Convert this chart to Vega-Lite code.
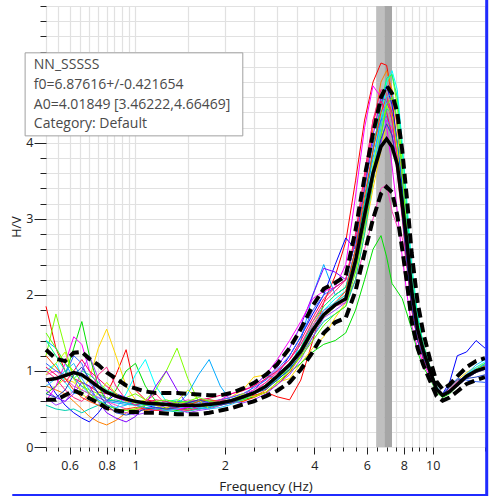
{
"$schema": "https://vega.github.io/schema/vega-lite/v6.json",
"width": 439, "height": 441,
"autosize": {"type": "none"},
"padding": {"left": 46, "top": 6, "right": 8, "bottom": 49},
"background": "white",
"config": {"view": {"stroke": null}, "font": "Open Sans"},
"datasets": {"hv": [
{"hz":0.5,"up":1.28,"mn":0.88,"lo":0.62,"a":1.85,"b":0.8,"c":0.7,"d":1.2,"e":0.7,"f":1.0,"g":1.4,"h":0.9,"i":0.75,"j":0.6,"k":0.95,"l":1.1,"m":1.4,"n":1.05,"o":0.55,"p":1.2,"q":0.95,"r":0.65,"s":1.0,"t":0.8,"u":1.5,"w":0.7},
{"hz":0.54,"up":1.16,"mn":0.9,"lo":0.62,"a":1.3,"b":0.75,"c":0.8,"d":1.75,"e":0.8,"f":1.1,"g":1.3,"h":0.7,"i":0.65,"j":0.8,"k":1.0,"l":1.0,"m":1.2,"n":0.95,"o":0.5,"p":1.05,"q":1.1,"r":0.55,"s":0.9,"t":0.9,"u":1.3,"w":0.65},
{"hz":0.58,"up":1.13,"mn":0.94,"lo":0.68,"a":1.0,"b":0.7,"c":0.9,"d":1.3,"e":0.95,"f":0.85,"g":1.1,"h":0.55,"i":0.6,"j":1.1,"k":0.9,"l":0.95,"m":1.0,"n":0.85,"o":0.48,"p":0.9,"q":1.25,"r":0.6,"s":0.75,"t":1.0,"u":1.1,"w":0.75},
{"hz":0.62,"up":1.24,"mn":0.98,"lo":0.74,"a":0.9,"b":0.6,"c":0.85,"d":0.9,"e":1.3,"f":0.7,"g":0.9,"h":0.45,"i":0.7,"j":1.45,"k":0.8,"l":1.2,"m":0.9,"n":1.0,"o":0.5,"p":0.75,"q":0.9,"r":0.75,"s":0.65,"t":1.1,"u":1.0,"w":0.95},
{"hz":0.66,"up":1.25,"mn":0.95,"lo":0.7,"a":0.85,"b":0.5,"c":0.75,"d":0.8,"e":1.65,"f":0.75,"g":0.8,"h":0.38,"i":0.85,"j":1.35,"k":0.75,"l":1.1,"m":1.0,"n":1.15,"o":0.45,"p":0.65,"q":0.7,"r":1.0,"s":0.6,"t":0.9,"u":0.85,"w":1.05},
{"hz":0.7,"up":1.16,"mn":0.88,"lo":0.64,"a":0.8,"b":0.4,"c":0.9,"d":0.75,"e":1.2,"f":0.7,"g":0.7,"h":0.33,"i":0.8,"j":1.0,"k":0.7,"l":0.85,"m":0.95,"n":1.0,"o":0.5,"p":0.6,"q":0.62,"r":1.2,"s":0.7,"t":0.75,"u":0.7,"w":0.9},
{"hz":0.75,"up":1.08,"mn":0.79,"lo":0.58,"a":0.72,"b":0.33,"c":1.3,"d":0.7,"e":0.8,"f":0.62,"g":0.65,"h":0.45,"i":0.6,"j":0.8,"k":0.65,"l":0.7,"m":0.85,"n":0.9,"o":0.55,"p":0.55,"q":0.7,"r":0.9,"s":0.95,"t":0.62,"u":0.6,"w":0.7},
{"hz":0.8,"up":0.98,"mn":0.72,"lo":0.51,"a":0.7,"b":0.29,"c":1.55,"d":0.65,"e":0.6,"f":0.55,"g":0.6,"h":0.6,"i":0.45,"j":0.7,"k":0.6,"l":0.62,"m":0.75,"n":0.8,"o":0.6,"p":0.5,"q":0.85,"r":0.6,"s":1.05,"t":0.55,"u":0.55,"w":0.55},
{"hz":0.86,"up":0.9,"mn":0.67,"lo":0.48,"a":0.95,"b":0.35,"c":1.2,"d":0.6,"e":0.75,"f":0.5,"g":0.58,"h":0.7,"i":0.38,"j":0.65,"k":0.55,"l":0.6,"m":0.7,"n":0.7,"o":0.62,"p":0.48,"q":0.7,"r":0.5,"s":0.8,"t":0.52,"u":0.5,"w":0.45},
{"hz":0.93,"up":0.81,"mn":0.63,"lo":0.46,"a":1.28,"b":0.45,"c":0.8,"d":0.65,"e":1.0,"f":0.7,"g":0.56,"h":0.65,"i":0.33,"j":0.6,"k":0.5,"l":0.58,"m":0.62,"n":0.62,"o":0.58,"p":0.5,"q":0.6,"r":0.45,"s":0.62,"t":0.55,"u":0.48,"w":0.42},
{"hz":1.0,"up":0.77,"mn":0.6,"lo":0.46,"a":0.75,"b":0.5,"c":0.62,"d":0.7,"e":1.1,"f":0.95,"g":0.55,"h":0.6,"i":0.4,"j":0.55,"k":0.48,"l":0.56,"m":0.58,"n":0.6,"o":0.55,"p":0.52,"q":0.58,"r":0.42,"s":0.55,"t":0.62,"u":0.5,"w":0.45},
{"hz":1.08,"up":0.73,"mn":0.58,"lo":0.45,"a":0.62,"b":0.48,"c":0.58,"d":0.62,"e":0.8,"f":1.15,"g":0.52,"h":0.55,"i":0.55,"j":0.5,"k":0.5,"l":0.55,"m":0.55,"n":0.58,"o":0.52,"p":0.5,"q":0.62,"r":0.45,"s":0.6,"t":0.58,"u":0.55,"w":0.5},
{"hz":1.17,"up":0.71,"mn":0.57,"lo":0.45,"a":0.6,"b":0.5,"c":0.55,"d":0.75,"e":0.6,"f":0.8,"g":0.5,"h":0.52,"i":0.8,"j":0.48,"k":0.52,"l":0.55,"m":0.56,"n":0.62,"o":0.5,"p":0.48,"q":0.55,"r":0.5,"s":0.7,"t":0.52,"u":0.6,"w":0.52},
{"hz":1.27,"up":0.71,"mn":0.56,"lo":0.44,"a":0.55,"b":0.52,"c":0.56,"d":1.0,"e":0.5,"f":0.6,"g":0.5,"h":0.5,"i":1.0,"j":0.48,"k":0.55,"l":0.58,"m":0.6,"n":0.6,"o":0.48,"p":0.5,"q":0.5,"r":0.55,"s":0.55,"t":0.48,"u":0.62,"w":0.5},
{"hz":1.38,"up":0.71,"mn":0.55,"lo":0.43,"a":0.52,"b":0.5,"c":0.6,"d":1.3,"e":0.48,"f":0.55,"g":0.55,"h":0.5,"i":0.75,"j":0.5,"k":0.58,"l":0.6,"m":0.62,"n":0.55,"o":0.46,"p":0.52,"q":0.6,"r":0.5,"s":0.5,"t":0.5,"u":0.58,"w":0.52},
{"hz":1.5,"up":0.7,"mn":0.55,"lo":0.43,"a":0.5,"b":0.48,"c":0.58,"d":0.9,"e":0.5,"f":0.52,"g":0.7,"h":0.52,"i":0.55,"j":0.52,"k":0.62,"l":0.6,"m":0.58,"n":0.58,"o":0.47,"p":0.55,"q":0.75,"r":0.45,"s":0.48,"t":0.55,"u":0.6,"w":0.58},
{"hz":1.63,"up":0.69,"mn":0.55,"lo":0.43,"a":0.53,"b":0.5,"c":0.55,"d":0.6,"e":0.52,"f":0.5,"g":0.95,"h":0.55,"i":0.5,"j":0.55,"k":0.6,"l":0.58,"m":0.6,"n":0.62,"o":0.5,"p":0.6,"q":0.62,"r":0.48,"s":0.52,"t":0.52,"u":0.65,"w":0.62},
{"hz":1.77,"up":0.68,"mn":0.56,"lo":0.45,"a":0.55,"b":0.52,"c":0.57,"d":0.55,"e":0.55,"f":0.53,"g":1.15,"h":0.57,"i":0.52,"j":0.58,"k":0.58,"l":0.6,"m":0.62,"n":0.64,"o":0.52,"p":0.62,"q":0.5,"r":0.5,"s":0.58,"t":0.5,"u":0.6,"w":0.58},
{"hz":1.93,"up":0.68,"mn":0.58,"lo":0.48,"a":0.6,"b":0.55,"c":0.6,"d":0.58,"e":0.56,"f":0.56,"g":0.8,"h":0.6,"i":0.55,"j":0.62,"k":0.62,"l":0.62,"m":0.6,"n":0.68,"o":0.56,"p":0.6,"q":0.55,"r":0.55,"s":0.62,"t":0.52,"u":0.58,"w":0.55},
{"hz":2.1,"up":0.71,"mn":0.61,"lo":0.51,"a":0.62,"b":0.58,"c":0.66,"d":0.6,"e":0.58,"f":0.6,"g":0.6,"h":0.62,"i":0.6,"j":0.7,"k":0.66,"l":0.65,"m":0.6,"n":0.7,"o":0.6,"p":0.58,"q":0.62,"r":0.6,"s":0.6,"t":0.56,"u":0.6,"w":0.58},
{"hz":2.3,"up":0.77,"mn":0.66,"lo":0.56,"a":0.64,"b":0.6,"c":0.75,"d":0.64,"e":0.62,"f":0.66,"g":0.66,"h":0.68,"i":0.66,"j":0.75,"k":0.7,"l":0.7,"m":0.65,"n":0.74,"o":0.64,"p":0.6,"q":0.7,"r":0.58,"s":0.65,"t":0.62,"u":0.62,"w":0.64},
{"hz":2.5,"up":0.84,"mn":0.71,"lo":0.6,"a":0.68,"b":0.66,"c":0.92,"d":0.7,"e":0.66,"f":0.72,"g":0.8,"h":0.72,"i":0.75,"j":0.8,"k":0.75,"l":0.78,"m":0.7,"n":0.8,"o":0.7,"p":0.65,"q":0.66,"r":0.62,"s":0.72,"t":0.7,"u":0.7,"w":0.7},
{"hz":2.75,"up":0.95,"mn":0.8,"lo":0.67,"a":0.72,"b":0.75,"c":0.95,"d":0.78,"e":0.72,"f":0.82,"g":0.95,"h":0.8,"i":0.9,"j":0.95,"k":0.85,"l":0.88,"m":0.8,"n":0.9,"o":0.78,"p":0.72,"q":0.72,"r":0.7,"s":0.85,"t":0.78,"u":0.82,"w":0.76},
{"hz":3.0,"up":1.09,"mn":0.93,"lo":0.74,"a":0.66,"b":0.9,"c":0.85,"d":0.9,"e":0.85,"f":0.95,"g":0.9,"h":0.95,"i":1.05,"j":1.15,"k":1.0,"l":1.02,"m":0.95,"n":1.0,"o":0.88,"p":0.82,"q":0.85,"r":0.82,"s":0.98,"t":0.9,"u":0.92,"w":0.88},
{"hz":3.3,"up":1.3,"mn":1.08,"lo":0.85,"a":0.62,"b":1.1,"c":0.9,"d":1.05,"e":0.98,"f":1.1,"g":1.0,"h":1.2,"i":1.3,"j":1.4,"k":1.15,"l":1.2,"m":1.1,"n":1.15,"o":1.02,"p":0.98,"q":1.0,"r":0.95,"s":1.15,"t":1.05,"u":1.02,"w":1.02},
{"hz":3.6,"up":1.55,"mn":1.26,"lo":1.02,"a":0.88,"b":1.3,"c":1.1,"d":1.25,"e":1.1,"f":1.3,"g":1.4,"h":1.45,"i":1.6,"j":1.65,"k":1.35,"l":1.45,"m":1.3,"n":1.4,"o":1.2,"p":1.2,"q":1.2,"r":1.15,"s":1.35,"t":1.25,"u":1.18,"w":1.22},
{"hz":3.95,"up":1.86,"mn":1.54,"lo":1.25,"a":1.4,"b":1.6,"c":1.3,"d":1.5,"e":1.25,"f":1.6,"g":2.0,"h":1.75,"i":2.0,"j":1.95,"k":1.6,"l":1.8,"m":1.65,"n":1.7,"o":1.45,"p":1.5,"q":1.5,"r":1.45,"s":1.65,"t":1.55,"u":1.4,"w":1.5},
{"hz":4.3,"up":2.08,"mn":1.74,"lo":1.5,"a":1.9,"b":1.85,"c":1.45,"d":1.75,"e":1.35,"f":1.8,"g":2.4,"h":2.0,"i":2.35,"j":2.05,"k":1.8,"l":2.0,"m":1.85,"n":1.95,"o":1.65,"p":1.75,"q":1.7,"r":1.7,"s":1.9,"t":1.8,"u":1.6,"w":1.72},
{"hz":4.7,"up":2.16,"mn":1.87,"lo":1.64,"a":2.25,"b":2.0,"c":1.7,"d":1.9,"e":1.4,"f":1.95,"g":2.0,"h":2.4,"i":2.3,"j":2.1,"k":1.85,"l":2.1,"m":2.0,"n":2.1,"o":1.75,"p":1.9,"q":1.85,"r":1.8,"s":2.05,"t":1.9,"u":1.75,"w":1.85},
{"hz":5.1,"up":2.25,"mn":1.95,"lo":1.7,"a":2.7,"b":2.1,"c":1.9,"d":2.0,"e":1.5,"f":2.05,"g":2.1,"h":2.75,"i":2.2,"j":2.4,"k":1.9,"l":2.2,"m":2.1,"n":2.2,"o":1.85,"p":2.05,"q":1.95,"r":1.9,"s":2.2,"t":2.0,"u":1.85,"w":1.95},
{"hz":5.5,"up":2.85,"mn":2.45,"lo":2.05,"a":3.5,"b":2.6,"c":2.2,"d":2.3,"e":1.8,"f":2.45,"g":2.6,"h":2.6,"i":2.7,"j":3.3,"k":2.2,"l":2.7,"m":2.5,"n":2.8,"o":2.2,"p":2.6,"q":2.4,"r":2.35,"s":2.75,"t":2.4,"u":2.3,"w":2.4},
{"hz":5.9,"up":3.55,"mn":3.05,"lo":2.55,"a":4.3,"b":3.4,"c":2.8,"d":2.9,"e":2.2,"f":3.1,"g":3.2,"h":3.2,"i":3.4,"j":4.2,"k":2.6,"l":3.4,"m":3.2,"n":3.6,"o":2.8,"p":3.3,"q":3.0,"r":2.9,"s":3.5,"t":3.0,"u":2.9,"w":3.0},
{"hz":6.3,"up":4.12,"mn":3.6,"lo":3.0,"a":4.8,"b":4.2,"c":3.4,"d":3.6,"e":2.6,"f":3.7,"g":3.8,"h":3.9,"i":4.1,"j":4.75,"k":3.0,"l":4.0,"m":3.9,"n":4.3,"o":3.5,"p":3.9,"q":3.7,"r":3.5,"s":4.3,"t":3.6,"u":3.5,"w":3.6},
{"hz":6.7,"up":4.6,"mn":3.95,"lo":3.33,"a":5.05,"b":4.8,"c":3.9,"d":4.3,"e":2.78,"f":4.3,"g":4.3,"h":4.5,"i":4.6,"j":4.6,"k":3.4,"l":4.3,"m":4.5,"n":4.55,"o":4.1,"p":4.4,"q":4.2,"r":4.0,"s":4.7,"t":4.2,"u":4.1,"w":4.05},
{"hz":7.0,"up":4.75,"mn":4.05,"lo":3.42,"a":5.02,"b":4.95,"c":4.25,"d":4.8,"e":2.5,"f":4.8,"g":4.5,"h":4.75,"i":4.55,"j":4.2,"k":3.45,"l":4.35,"m":4.85,"n":4.4,"o":4.45,"p":4.6,"q":4.5,"r":4.3,"s":4.65,"t":4.6,"u":4.5,"w":4.25},
{"hz":7.3,"up":4.65,"mn":3.95,"lo":3.35,"a":4.6,"b":4.7,"c":4.2,"d":4.9,"e":2.15,"f":4.95,"g":4.4,"h":4.5,"i":4.3,"j":3.7,"k":3.1,"l":4.1,"m":4.9,"n":4.1,"o":4.4,"p":4.4,"q":4.35,"r":4.2,"s":4.3,"t":4.65,"u":4.6,"w":4.1},
{"hz":7.6,"up":4.4,"mn":3.72,"lo":3.05,"a":3.95,"b":4.2,"c":3.9,"d":4.5,"e":2.05,"f":4.7,"g":4.0,"h":4.0,"i":3.8,"j":3.1,"k":2.9,"l":3.7,"m":4.6,"n":3.6,"o":4.0,"p":3.9,"q":3.9,"r":3.8,"s":3.8,"t":4.3,"u":4.3,"w":3.7},
{"hz":7.9,"up":3.9,"mn":3.2,"lo":2.6,"a":3.2,"b":3.5,"c":3.4,"d":3.7,"e":1.95,"f":4.0,"g":3.4,"h":3.4,"i":3.1,"j":2.5,"k":2.75,"l":3.1,"m":3.9,"n":3.0,"o":3.3,"p":3.2,"q":3.2,"r":3.15,"s":3.1,"t":3.6,"u":3.6,"w":3.05},
{"hz":8.2,"up":3.25,"mn":2.68,"lo":2.15,"a":2.5,"b":2.8,"c":2.8,"d":2.9,"e":1.75,"f":3.2,"g":2.7,"h":2.7,"i":2.4,"j":2.0,"k":2.4,"l":2.5,"m":3.1,"n":2.35,"o":2.6,"p":2.5,"q":2.5,"r":2.5,"s":2.45,"t":2.9,"u":2.8,"w":2.4},
{"hz":8.5,"up":2.55,"mn":2.05,"lo":1.65,"a":1.9,"b":2.15,"c":2.2,"d":2.2,"e":1.55,"f":2.4,"g":2.1,"h":2.0,"i":1.85,"j":1.6,"k":2.0,"l":1.9,"m":2.3,"n":1.8,"o":2.0,"p":1.9,"q":1.9,"r":1.9,"s":1.85,"t":2.2,"u":2.1,"w":1.85},
{"hz":8.9,"up":1.9,"mn":1.55,"lo":1.3,"a":1.45,"b":1.6,"c":1.65,"d":1.65,"e":1.25,"f":1.75,"g":1.6,"h":1.5,"i":1.4,"j":1.3,"k":1.6,"l":1.45,"m":1.7,"n":1.4,"o":1.5,"p":1.45,"q":1.45,"r":1.45,"s":1.42,"t":1.6,"u":1.55,"w":1.4},
{"hz":9.3,"up":1.5,"mn":1.27,"lo":1.08,"a":1.2,"b":1.3,"c":1.35,"d":1.3,"e":1.05,"f":1.35,"g":1.3,"h":1.25,"i":1.2,"j":1.1,"k":1.3,"l":1.2,"m":1.35,"n":1.15,"o":1.25,"p":1.2,"q":1.2,"r":1.2,"s":1.18,"t":1.3,"u":1.25,"w":1.18},
{"hz":9.8,"up":1.15,"mn":1.0,"lo":0.87,"a":0.98,"b":1.02,"c":1.05,"d":1.02,"e":0.9,"f":1.05,"g":1.02,"h":1.0,"i":0.95,"j":0.92,"k":1.05,"l":0.97,"m":1.05,"n":0.95,"o":1.0,"p":0.98,"q":0.98,"r":0.97,"s":0.96,"t":1.02,"u":1.0,"w":0.96},
{"hz":10.3,"up":0.86,"mn":0.76,"lo":0.67,"a":0.78,"b":0.78,"c":0.8,"d":0.78,"e":0.72,"f":0.8,"g":0.8,"h":0.76,"i":0.74,"j":0.74,"k":0.8,"l":0.75,"m":0.8,"n":0.75,"o":0.78,"p":0.77,"q":0.77,"r":0.76,"s":0.76,"t":0.79,"u":0.78,"w":0.76},
{"hz":10.8,"up":0.76,"mn":0.68,"lo":0.61,"a":0.7,"b":0.66,"c":0.7,"d":0.67,"e":0.65,"f":0.68,"g":0.7,"h":0.7,"i":0.68,"j":0.68,"k":0.7,"l":0.69,"m":0.68,"n":0.68,"o":0.69,"p":0.67,"q":0.68,"r":0.68,"s":0.69,"t":0.7,"u":0.68,"w":0.7},
{"hz":11.4,"up":0.82,"mn":0.73,"lo":0.65,"a":0.75,"b":0.72,"c":0.78,"d":0.72,"e":0.7,"f":0.74,"g":0.75,"h":0.85,"i":0.72,"j":0.74,"k":0.76,"l":0.8,"m":0.74,"n":0.73,"o":0.73,"p":0.72,"q":0.74,"r":0.73,"s":0.74,"t":0.74,"u":0.73,"w":0.78},
{"hz":12.1,"up":0.93,"mn":0.82,"lo":0.73,"a":0.85,"b":0.83,"c":0.88,"d":0.82,"e":0.8,"f":0.85,"g":0.85,"h":1.2,"i":0.8,"j":0.83,"k":0.86,"l":0.9,"m":0.84,"n":0.83,"o":0.82,"p":0.82,"q":0.84,"r":0.82,"s":0.83,"t":0.84,"u":0.83,"w":0.88},
{"hz":13,"up":1.05,"mn":0.93,"lo":0.83,"a":0.95,"b":0.92,"c":0.98,"d":0.92,"e":0.9,"f":0.95,"g":0.95,"h":1.25,"i":0.9,"j":0.93,"k":0.95,"l":0.88,"m":0.94,"n":0.92,"o":0.91,"p":0.92,"q":0.94,"r":0.92,"s":0.93,"t":0.96,"u":0.93,"w":0.9},
{"hz":14,"up":1.13,"mn":1.0,"lo":0.88,"a":1.02,"b":1.0,"c":1.05,"d":1.0,"e":0.98,"f":1.05,"g":1.03,"h":1.4,"i":0.98,"j":1.0,"k":1.02,"l":0.86,"m":1.02,"n":1.0,"o":0.99,"p":1.0,"q":1.02,"r":1.0,"s":1.01,"t":1.08,"u":1.0,"w":0.92},
{"hz":15,"up":1.17,"mn":1.04,"lo":0.92,"a":1.08,"b":1.05,"c":1.1,"d":1.05,"e":1.02,"f":1.12,"g":1.08,"h":1.3,"i":1.02,"j":1.05,"k":1.06,"l":0.85,"m":1.1,"n":1.04,"o":1.03,"p":1.05,"q":1.06,"r":1.04,"s":1.05,"t":1.15,"u":1.04,"w":0.95}
]},
"encoding": {
 "x": {"field": "hz", "type": "quantitative", "scale": {"type": "log", "domain": [0.5, 15], "nice": false},
  "axis": {"title": "Frequency (Hz)",
   "values": [0.5,0.55,0.6,0.65,0.7,0.75,0.8,0.85,0.9,0.95,1,1.5,2,2.5,3,3.5,4,4.5,5,5.5,6,6.5,7,7.5,8,8.5,9,9.5,10,15],
   "labelExpr": "indexof([0.6,0.8,1,2,4,6,8,10], datum.value) >= 0 ? '' + datum.value : ''",
   "tickSize": {"condition": {"test": "indexof([0.6,0.8,1,2,4,6,8,10], datum.value) >= 0", "value": 7}, "value": 4},
   "tickColor": "#222", "domain": false, "grid": true, "gridColor": "#e1e1e1", "gridWidth": 1.2,
   "labelFont": "Open Sans", "labelFontSize": 12.5, "labelColor": "#222", "labelPadding": 5,
   "labelFlush": false, "labelOverlap": false,
   "titleFont": "Open Sans", "titleFontSize": 13.5, "titleFontWeight": "normal", "titleColor": "#222", "titlePadding": 8}},
 "y": {"field": "v", "type": "quantitative", "scale": {"domain": [0, 5.8], "nice": false, "zero": false},
  "axis": {"title": "H/V",
   "values": [0,0.2,0.4,0.6,0.8,1,1.2,1.4,1.6,1.8,2,2.2,2.4,2.6,2.8,3,3.2,3.4,3.6,3.8,4,4.2,4.4,4.6,4.8,5,5.2,5.4,5.6,5.8],
   "labelExpr": "datum.value % 1 == 0 ? '' + datum.value : ''",
   "tickSize": {"condition": {"test": "datum.value % 1 == 0", "value": 12}, "value": 6},
   "tickColor": "#222", "domain": false, "grid": true, "gridColor": "#e1e1e1", "gridWidth": 1.2,
   "labelFont": "Open Sans", "labelFontSize": 12.5, "labelColor": "#222", "labelPadding": 1,
   "labelFlush": false, "labelOverlap": false,
   "titleFont": "Open Sans", "titleFontSize": 12.5, "titleFontWeight": "normal", "titleColor": "#222", "titlePadding": 2}}
},
"layer": [
{
 "data": {"values": [{"hz": 6.455, "hz2": 6.876, "v": 0, "v2": 5.8}]},
 "mark": {"type": "rect", "color": "#bfbfbf"},
 "encoding": {"x2": {"field": "hz2"}, "y2": {"field": "v2"}}
},
{
 "data": {"values": [{"hz": 6.876, "hz2": 7.298, "v": 0, "v2": 5.8}]},
 "mark": {"type": "rect", "color": "#a6a6a6"},
 "encoding": {"x2": {"field": "hz2"}, "y2": {"field": "v2"}}
},
{
 "data": {"name": "hv"},
 "transform": [{"fold": ["a","b","c","d","e","f","g","h","i","j","k","l","m","n","o","p","q","r","s","t","u","w"], "as": ["k", "v"]}],
 "mark": {"type": "line", "strokeWidth": 1},
 "encoding": {
  "color": {"field": "k", "type": "nominal", "legend": null,
   "scale": {"domain": ["a","b","c","d","e","f","g","h","i","j","k","l","m","n","o","p","q","r","s","t","u","w"],
    "range": ["#ff0000","#ff8000","#ffd800","#80ff00","#00e000","#00ffff","#00aaff","#0000ff","#8000ff","#ff00ff","#ff40c0","#3366ff","#00ff80","#ff0060","#00d0b0","#ff4000","#c0ff00","#a040ff","#ff2080","#20c0ff","#60ff00","#2040c0"]}}
 }
},
{
 "data": {"name": "hv"},
 "transform": [{"fold": ["up", "lo"], "as": ["k", "v"]}],
 "mark": {"type": "line", "strokeWidth": 4, "color": "#000000", "strokeDash": [10, 5]},
 "encoding": {"detail": {"field": "k", "type": "nominal"}}
},
{
 "data": {"name": "hv"},
 "transform": [{"fold": ["mn"], "as": ["k", "v"]}],
 "mark": {"type": "line", "strokeWidth": 3.5, "color": "#000000"},
 "encoding": {"detail": {"field": "k", "type": "nominal"}}
},
{
 "data": {"values": [{"hz": 0.4253, "hz2": 2.297, "v": 5.184, "v2": 4.092}]},
 "mark": {"type": "rect", "fill": "#ffffff", "stroke": "#a0a0a0", "strokeWidth": 1, "clip": false},
 "encoding": {"x2": {"field": "hz2"}, "y2": {"field": "v2"}}
},
{
 "data": {"values": [
  {"hz": 0.455, "v": 5.02, "t": "NN_SSSSS"},
  {"hz": 0.455, "v": 4.76, "t": "f0=6.87616+/-0.421654"},
  {"hz": 0.455, "v": 4.5, "t": "A0=4.01849 [3.46222,4.66469]"},
  {"hz": 0.455, "v": 4.25, "t": "Category: Default"}
 ]},
 "mark": {"type": "text", "align": "left", "baseline": "middle", "font": "Open Sans", "fontSize": 14, "color": "#4a4a4a", "clip": false},
 "encoding": {"text": {"field": "t"}}
},
{
 "data": {"values": [{"hz": 15.2, "v": -0.65, "v2": 5.9}]},
 "mark": {"type": "rule", "color": "#1f2bff", "strokeWidth": 3, "clip": false},
 "encoding": {"y2": {"field": "v2"}}
},
{
 "data": {"values": [{"hz": 0.385, "hz2": 15.2, "v": -0.63}]},
 "mark": {"type": "rule", "color": "#1f2bff", "strokeWidth": 2, "clip": false},
 "encoding": {"x2": {"field": "hz2"}}
}
]
}
